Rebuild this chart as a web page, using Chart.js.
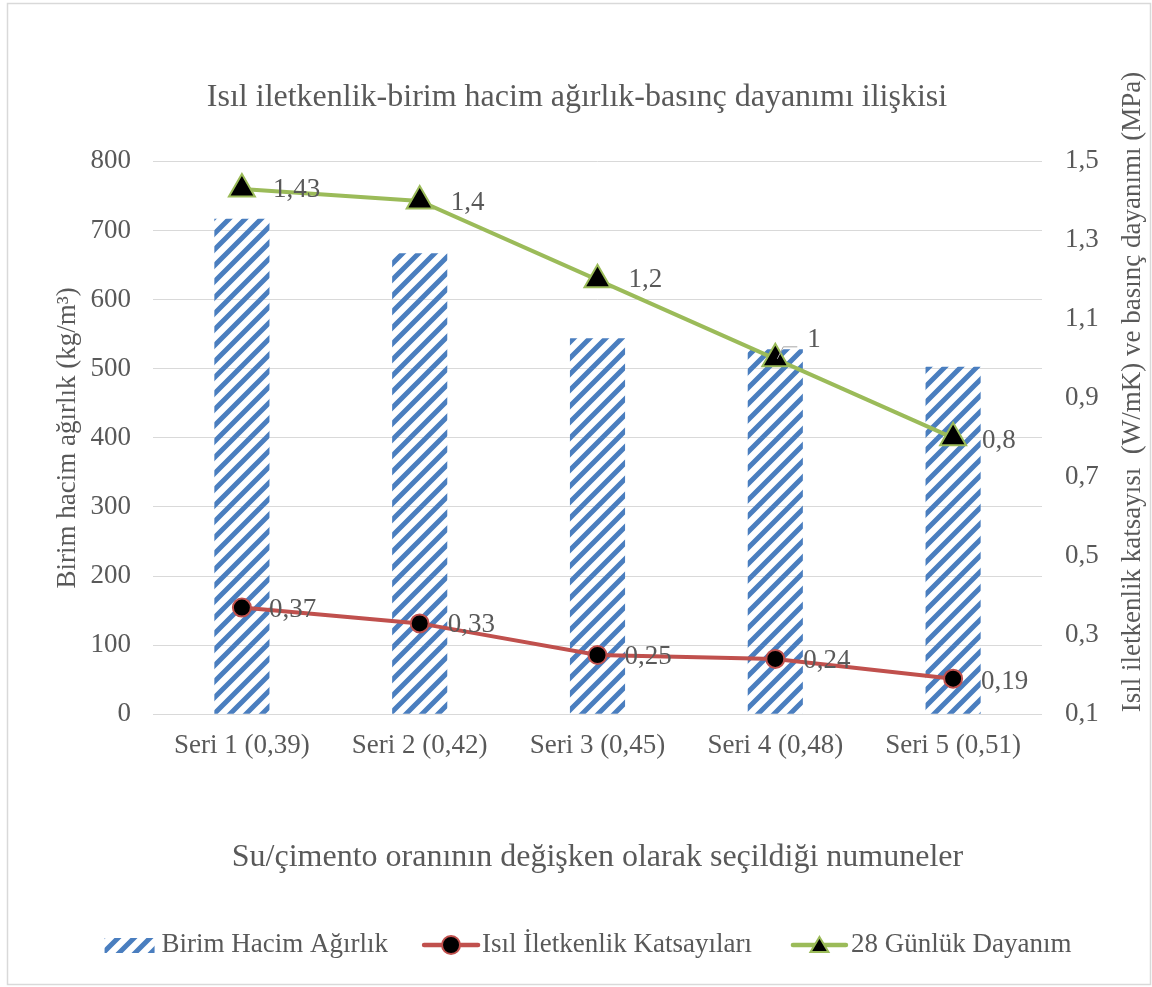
<!DOCTYPE html>
<html>
<head>
<meta charset="utf-8">
<script src="https://cdn.jsdelivr.net/npm/chart.js@4"></script>
<style>
  html, body { margin: 0; padding: 0; background: #fff; }
  #wrap { width: 1152px; height: 987px; }
</style>
</head>
<body>
<div id="wrap"><canvas id="chart" width="1152" height="987"></canvas></div>
<script>
const categories = ['Seri 1 (0,39)', 'Seri 2 (0,42)', 'Seri 3 (0,45)', 'Seri 4 (0,48)', 'Seri 5 (0,51)'];
const birimHacim = [717, 667, 544, 528, 503];
const isilIletkenlik = [0.37, 0.33, 0.25, 0.24, 0.19];
const gunluk28 = [1.43, 1.4, 1.2, 1, 0.8];
const leftAxis = { min: 0, max: 800, step: 100 };
const rightAxis = { min: 0.1, max: 1.5, step: 0.2 };

const textColor = '#595959';
const fontFamily = '"Liberation Serif", "Times New Roman", serif';
const blue = '#4A7EBF';
const red = '#C0504D';
const green = '#9BBB59';

const ctx = document.querySelector('#chart').getContext('2d');

// hatch tile for the bars (wide upward diagonal)
function hatchTile(size, w) {
    const c = document.createElement('canvas');
    c.width = size; c.height = size;
    const g = c.getContext('2d');
    g.strokeStyle = blue;
    g.lineWidth = w;
    g.beginPath();
    g.moveTo(-size / 4, size + size / 4); g.lineTo(size + size / 4, -size / 4);
    g.moveTo(-size / 4, size / 4); g.lineTo(size / 4, -size / 4);
    g.moveTo(size - size / 4, size + size / 4); g.lineTo(size + size / 4, size - size / 4);
    g.stroke();
    return c;
}
const hatch = ctx.createPattern(hatchTile(16, 5), 'repeat');

const fmt = v => String(v).replace('.', ',');

// label offsets next to the points
const labelOffsets = {
    1: [[27, 2], [28, 2], [27, 2], [28, 2], [28, 3]],
    2: [[31, 1], [31, 2], [31, 0], [32, -19], [29, 3]]
};

const pageFrame = {
    id: 'pageFrame',
    beforeDraw(chart) {
        const c = chart.ctx;
        c.save();
        c.fillStyle = '#fff';
        c.fillRect(0, 0, chart.width, chart.height);
        c.strokeStyle = '#d9d9d9';
        c.lineWidth = 1.5;
        c.strokeRect(7.5, 3.5, 1143, 981);
        c.restore();
    }
};

const pointLabels = {
    id: 'pointLabels',
    afterDatasetsDraw(chart) {
        const c = chart.ctx;
        c.save();
        c.font = '27px ' + fontFamily;
        c.fillStyle = textColor;
        c.textAlign = 'left';
        c.textBaseline = 'middle';
        [1, 2].forEach(di => {
            const ds = chart.data.datasets[di];
            chart.getDatasetMeta(di).data.forEach((pt, i) => {
                const [dx, dy] = labelOffsets[di][i];
                if (dy < -10) {
                    c.strokeStyle = '#a6a6a6';
                    c.lineWidth = 1;
                    c.beginPath();
                    c.moveTo(pt.x + 2, pt.y);
                    c.lineTo(pt.x + 8, pt.y + dy + 7);
                    c.lineTo(pt.x + dx - 10, pt.y + dy + 7);
                    c.stroke();
                }
                c.fillText(fmt(ds.data[i]), pt.x + dx, pt.y + dy);
            });
        });
        c.restore();
    }
};

const rightTitle = {
    id: 'rightTitle',
    afterDraw(chart) {
        const c = chart.ctx;
        c.save();
        c.translate(1133, 392);
        c.rotate(-Math.PI / 2);
        c.font = '27px ' + fontFamily;
        c.fillStyle = textColor;
        c.textAlign = 'center';
        c.textBaseline = 'middle';
        c.fillText('Isıl iletkenlik katsayısı  (W/mK) ve basınç dayanımı (MPa)', 0, 0);
        c.restore();
    }
};

// legend row at the bottom, built from the datasets
const legendRow = {
    id: 'legendRow',
    afterDraw(chart) {
        const c = chart.ctx;
        const y = 945;
        const iconW = [50, 58, 57];
        const gapAfterIcon = [7, 2, 3];
        const gapAfterText = [34, 39, 0];
        c.save();
        c.font = '27px ' + fontFamily;
        c.textBaseline = 'middle';
        c.textAlign = 'left';
        const ds = chart.data.datasets;
        const textW = ds.map(d => c.measureText(d.label).width);
        let total = 0;
        ds.forEach((d, i) => { total += iconW[i] + gapAfterIcon[i] + textW[i] + gapAfterText[i]; });
        let x = 588 - total / 2;
        ds.forEach((d, i) => {
            if (i === 0) {
                c.fillStyle = hatch;
                c.fillRect(x, y - 7, iconW[i], 15);
            } else {
                const mid = x + iconW[i] / 2;
                c.strokeStyle = d.borderColor;
                c.lineWidth = 4.5;
                c.lineCap = 'round';
                c.beginPath(); c.moveTo(x + 2, y); c.lineTo(x + iconW[i] - 2, y); c.stroke();
                c.fillStyle = '#000';
                c.lineWidth = 2;
                c.beginPath();
                if (d.pointStyle === 'circle') {
                    c.arc(mid, y, 9, 0, Math.PI * 2);
                } else {
                    c.moveTo(mid, y - 8); c.lineTo(mid + 9, y + 7); c.lineTo(mid - 9, y + 7); c.closePath();
                }
                c.fill(); c.stroke();
            }
            x += iconW[i] + gapAfterIcon[i];
            c.fillStyle = textColor;
            c.fillText(d.label, x, y);
            x += textW[i] + gapAfterText[i];
        });
        c.restore();
    }
};

Chart.defaults.font.family = fontFamily;
Chart.defaults.color = textColor;

const chart = new Chart(ctx, {
    type: 'bar',
    data: {
        labels: categories,
        datasets: [{
            label: 'Birim Hacim Ağırlık',
            data: birimHacim,
            backgroundColor: hatch,
            borderWidth: 0,
            barPercentage: 0.31,
            categoryPercentage: 1,
            yAxisID: 'y',
            order: 1
        }, {
            type: 'line',
            label: 'Isıl İletkenlik Katsayıları',
            data: isilIletkenlik,
            borderColor: red,
            borderWidth: 4,
            tension: 0,
            pointStyle: 'circle',
            pointRadius: 9,
            pointBackgroundColor: '#000',
            pointBorderColor: red,
            pointBorderWidth: 2,
            yAxisID: 'y1',
            order: 0
        }, {
            type: 'line',
            label: '28 Günlük Dayanım',
            data: gunluk28,
            borderColor: green,
            borderWidth: 4,
            tension: 0,
            pointStyle: 'triangle',
            pointRadius: 15,
            pointBackgroundColor: '#000',
            pointBorderColor: green,
            pointBorderWidth: 2,
            yAxisID: 'y1',
            order: 0
        }]
    },
    options: {
        responsive: false,
        animation: false,
        layout: { padding: { left: 7, right: 5, top: 0, bottom: 66 } },
        plugins: {
            tooltip: { enabled: false },
            legend: { display: false },
            title: {
                display: true,
                text: 'Isıl iletkenlik-birim hacim ağırlık-basınç dayanımı ilişkisi',
                color: textColor,
                font: { family: fontFamily, size: 32, weight: 'normal' },
                padding: { top: 78, bottom: 45 }
            }
        },
        scales: {
            x: {
                grid: { display: false, drawTicks: false },
                border: { display: false },
                ticks: { padding: 16, font: { family: fontFamily, size: 27 }, color: textColor },
                title: {
                    display: true,
                    text: 'Su/çimento oranının değişken olarak seçildiği numuneler',
                    font: { family: fontFamily, size: 32 },
                    color: textColor,
                    padding: { top: 60, bottom: 44 }
                }
            },
            y: {
                position: 'left',
                min: leftAxis.min,
                max: leftAxis.max,
                ticks: { stepSize: leftAxis.step, padding: 22, font: { family: fontFamily, size: 27 }, color: textColor },
                grid: { color: '#d9d9d9', lineWidth: 1, drawTicks: false },
                border: { display: false },
                title: {
                    display: true,
                    text: 'Birim hacim ağırlık (kg/m³)',
                    font: { family: fontFamily, size: 27 },
                    color: textColor,
                    padding: { top: 45, bottom: 0 }
                },
                afterFit(scale) { scale.width = 146; }
            },
            y1: {
                position: 'right',
                min: rightAxis.min,
                max: rightAxis.max,
                ticks: {
                    stepSize: rightAxis.step,
                    padding: 23,
                    font: { family: fontFamily, size: 27 },
                    color: textColor,
                    callback: v => v.toFixed(1).replace('.', ',')
                },
                grid: { display: false, drawTicks: false },
                border: { display: false },
                afterFit(scale) { scale.width = 105; }
            }
        }
    },
    plugins: [pageFrame, pointLabels, rightTitle, legendRow]
});
</script>
</body>
</html>
